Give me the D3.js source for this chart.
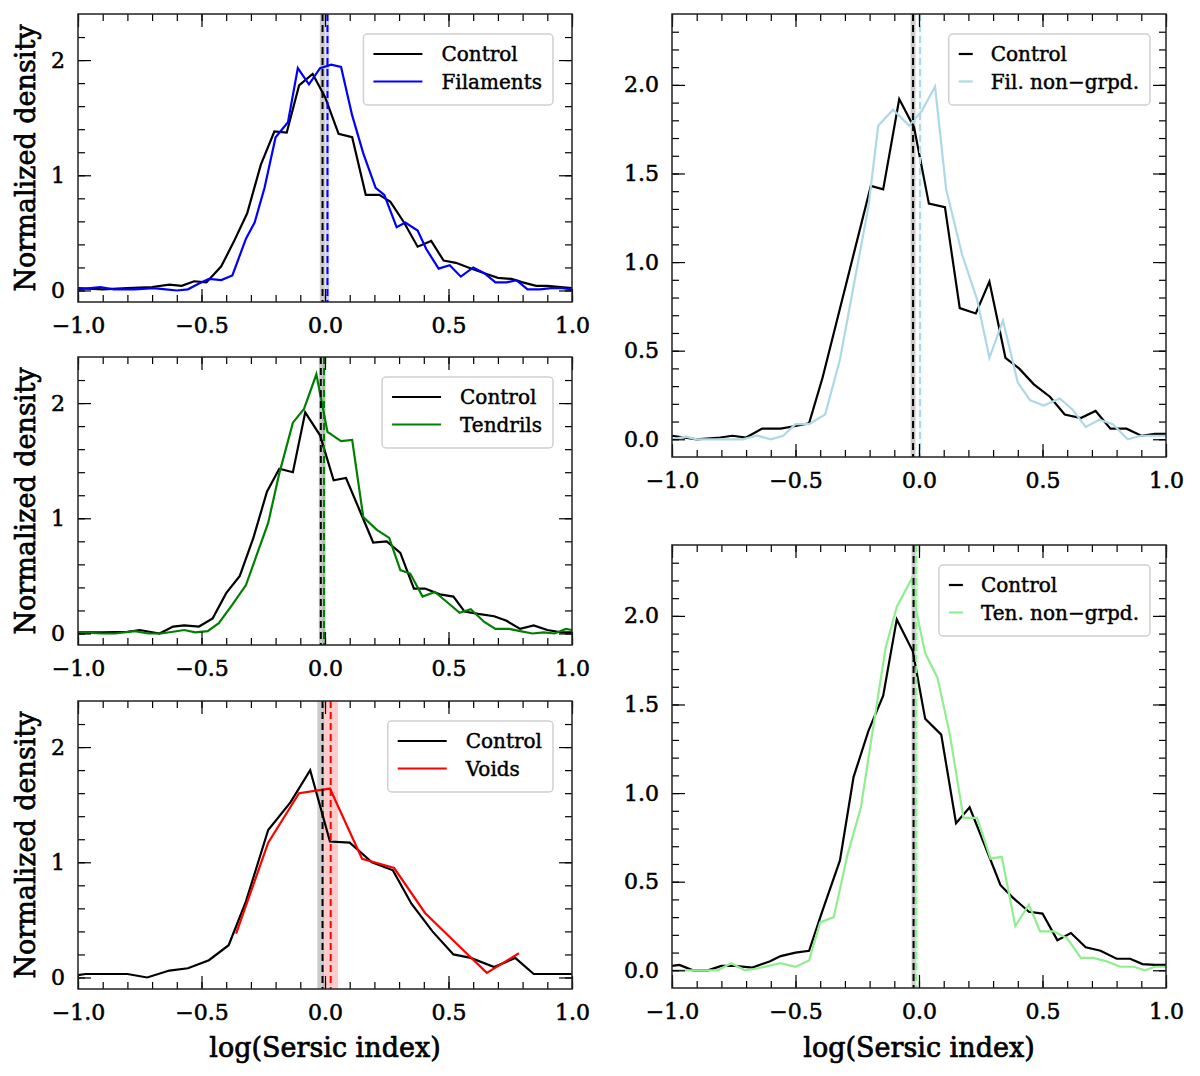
<!DOCTYPE html>
<html>
<head>
<meta charset="utf-8">
<script src="https://cdn.jsdelivr.net/npm/d3@7"></script>
<style>
  body { margin: 0; background: #fff; }
  svg { display: block; }
  text { font-family: "DejaVu Serif", serif; fill: #000; stroke: #000; stroke-width: 0.55px; }
</style>
</head>
<body>
<svg id="fig" width="1200" height="1076"></svg>
<script>
// ---- data (x = log Sersic index, y = normalized density) ----

// Filaments panel
const filCtrlX = [-1.0,-0.90,-0.80,-0.70,-0.63,-0.58,-0.53,-0.48,-0.42,-0.37,-0.315,-0.26,-0.205,-0.155,-0.105,-0.05,0.0,0.055,0.11,0.165,0.22,0.265,0.32,0.375,0.43,0.48,0.53,0.58,0.645,0.70,0.755,0.80,0.855,0.90,0.955,1.0];
const filCtrlY = [0.02,0.01,0.02,0.03,0.05,0.04,0.08,0.07,0.21,0.42,0.67,1.09,1.38,1.37,1.78,1.88,1.68,1.36,1.33,0.83,0.83,0.77,0.59,0.38,0.43,0.26,0.24,0.20,0.15,0.11,0.10,0.07,0.04,0.04,0.03,0.02];
const filX = [-1.0,-0.91,-0.855,-0.77,-0.695,-0.645,-0.60,-0.555,-0.51,-0.47,-0.42,-0.375,-0.32,-0.285,-0.245,-0.20,-0.15,-0.11,-0.065,-0.02,0.025,0.065,0.11,0.155,0.205,0.24,0.29,0.325,0.375,0.41,0.46,0.505,0.55,0.60,0.645,0.69,0.735,0.775,0.82,0.87,0.915,0.96,1.0];
const filY = [0.01,0.03,0.01,0.01,0.02,0.01,0.0,0.01,0.06,0.10,0.09,0.13,0.45,0.59,0.89,1.33,1.46,1.93,1.79,1.93,1.96,1.94,1.52,1.19,0.89,0.83,0.55,0.59,0.52,0.36,0.19,0.22,0.12,0.20,0.15,0.07,0.07,0.09,0.01,0.01,0.02,0.02,0.01];

// Tendrils panel
const tenCtrlX = [-1.0,-0.90,-0.80,-0.75,-0.67,-0.615,-0.57,-0.51,-0.455,-0.40,-0.345,-0.29,-0.235,-0.185,-0.13,-0.08,-0.02,0.035,0.085,0.14,0.195,0.25,0.305,0.36,0.405,0.465,0.52,0.565,0.62,0.685,0.735,0.79,0.845,0.90,0.955,1.0];
const tenCtrlY = [0.01,0.01,0.015,0.03,0.0,0.06,0.07,0.06,0.13,0.35,0.50,0.83,1.23,1.43,1.40,1.92,1.72,1.33,1.35,1.07,0.79,0.80,0.70,0.39,0.39,0.34,0.32,0.19,0.17,0.15,0.11,0.04,0.07,0.03,0.01,0.01];
const tenX = [-1.0,-0.90,-0.85,-0.77,-0.715,-0.665,-0.615,-0.57,-0.525,-0.475,-0.43,-0.375,-0.32,-0.275,-0.23,-0.185,-0.13,-0.085,-0.035,0.01,0.065,0.11,0.155,0.21,0.26,0.305,0.345,0.395,0.445,0.49,0.545,0.59,0.645,0.69,0.745,0.79,0.84,0.885,0.93,0.975,1.0];
const tenY = [0.01,0.0,0.0,0.02,0.0,0.0,0.015,0.03,0.01,0.02,0.09,0.25,0.42,0.69,0.96,1.39,1.83,1.95,2.25,1.75,1.67,1.68,1.01,0.90,0.83,0.55,0.52,0.32,0.36,0.28,0.18,0.21,0.10,0.04,0.04,0.02,0.0,0.01,0.0,0.04,0.03];

// Voids panel
const voidCtrlX = [-1.0,-0.97,-0.80,-0.72,-0.63,-0.555,-0.47,-0.39,-0.32,-0.23,-0.14,-0.06,0.02,0.10,0.19,0.275,0.35,0.435,0.52,0.59,0.685,0.77,0.845,1.0];
const voidCtrlY = [0.02,0.03,0.03,0.0,0.06,0.08,0.15,0.28,0.66,1.28,1.52,1.80,1.18,1.17,1.0,0.93,0.64,0.40,0.20,0.17,0.09,0.17,0.03,0.03];
const voidX = [-0.36,-0.23,-0.105,0.02,0.15,0.28,0.405,0.53,0.655,0.785];
const voidY = [0.38,1.17,1.60,1.64,1.03,0.95,0.56,0.30,0.04,0.21];

// Filaments non-grouped panel
const fngCtrlX = [-1.0,-0.90,-0.805,-0.755,-0.70,-0.635,-0.56,-0.50,-0.445,-0.39,-0.195,-0.145,-0.08,-0.02,0.04,0.105,0.165,0.23,0.285,0.35,0.405,0.465,0.53,0.59,0.655,0.715,0.775,0.84,0.90,0.955,1.0];
const fngCtrlY = [0.02,0.0,0.01,0.02,0.01,0.06,0.06,0.075,0.09,0.35,1.43,1.41,1.92,1.76,1.33,1.31,0.74,0.71,0.89,0.46,0.40,0.31,0.24,0.14,0.12,0.16,0.06,0.06,0.02,0.03,0.03];
const fngX = [-1.0,-0.945,-0.90,-0.805,-0.715,-0.655,-0.60,-0.55,-0.50,-0.445,-0.38,-0.32,-0.26,-0.205,-0.165,-0.105,-0.04,0.01,0.065,0.11,0.175,0.235,0.285,0.34,0.40,0.45,0.505,0.57,0.62,0.675,0.73,0.785,0.845,0.90,0.955,1.0];
const fngY = [0.0,0.015,0.0,0.0,0.0,0.02,0.0,0.02,0.085,0.085,0.14,0.45,0.90,1.31,1.77,1.86,1.77,1.85,1.99,1.41,1.04,0.79,0.46,0.67,0.32,0.22,0.19,0.23,0.17,0.07,0.11,0.085,0.0,0.02,0.02,0.02];

// Tendrils non-grouped panel
const tngCtrlX = [-1.0,-0.97,-0.915,-0.855,-0.80,-0.745,-0.675,-0.605,-0.56,-0.50,-0.445,-0.39,-0.32,-0.265,-0.205,-0.145,-0.09,-0.025,0.025,0.09,0.15,0.205,0.265,0.33,0.38,0.445,0.50,0.56,0.615,0.675,0.735,0.80,0.855,0.905,0.955,1.0];
const tngCtrlY = [0.025,0.03,0.0,0.0,0.025,0.025,0.015,0.05,0.08,0.10,0.11,0.34,0.62,1.09,1.35,1.55,1.98,1.80,1.42,1.33,0.83,0.92,0.71,0.48,0.41,0.33,0.32,0.17,0.21,0.13,0.11,0.065,0.065,0.035,0.03,0.03];
const tngX = [-1.0,-0.915,-0.815,-0.76,-0.705,-0.655,-0.56,-0.50,-0.445,-0.40,-0.345,-0.29,-0.235,-0.19,-0.135,-0.09,-0.03,-0.01,0.025,0.075,0.125,0.18,0.235,0.29,0.335,0.39,0.445,0.49,0.545,0.60,0.655,0.705,0.76,0.815,0.87,0.915,0.955,1.0];
const tngY = [0.0,0.0,0.0,0.04,0.0,0.01,0.04,0.02,0.055,0.27,0.30,0.65,0.92,1.33,1.82,2.05,2.21,2.02,1.79,1.65,1.33,0.86,0.86,0.63,0.64,0.25,0.37,0.22,0.22,0.18,0.07,0.07,0.05,0.02,0.02,0.0,0.02,0.02];

// medians (dashed lines) and their shaded ranges: [median, low, high]
const filMed  = { ctrl: [-0.010, -0.021, 0.000], env: [0.010, 0.002, 0.017] };
const tenMed  = { ctrl: [-0.017, -0.025, -0.001], env: [-0.004, -0.010, 0.004] };
const voidMed = { ctrl: [-0.010, -0.031, -0.004], env: [0.023, -0.006, 0.053] };
const fngMed  = { ctrl: [-0.024, -0.034, -0.014], env: [0.004, -0.002, 0.014] };
const tngMed  = { ctrl: [-0.022, -0.030, -0.013], env: [-0.011, -0.017, -0.001] };

const legendNames = ['Filaments', 'Tendrils', 'Voids', 'Fil. non\u2212grpd.', 'Ten. non\u2212grpd.'];
const envColors = ['#0000ff', '#008000', '#ff0000', '#add8e6', '#90ee90'];

const xMajor = [-1, -0.5, 0, 0.5, 1];
const xMinor = d3.range(-10, 11).map(i => i / 10);
const yMajorLeft = [0, 1, 2];
const yMinorLeft = d3.range(0, 12).map(i => +(i * 0.2).toFixed(1));
const yMajorRight = [0, 0.5, 1, 1.5, 2];
const yMinorRight = d3.range(0, 24).map(i => i / 10);

const svg = d3.select('#fig');

const panels = [
  { id: 0, left: 78,  right: 572,  top: 14,  h: 288, cx: filCtrlX, cy: filCtrlY, ex: filX, ey: filY, med: filMed, short: false, yMajor: yMajorLeft, yMinor: yMinorLeft, yFmt: d3.format('d') },
  { id: 1, left: 78,  right: 572,  top: 357, h: 288, cx: tenCtrlX, cy: tenCtrlY, ex: tenX, ey: tenY, med: tenMed, short: false, yMajor: yMajorLeft, yMinor: yMinorLeft, yFmt: d3.format('d') },
  { id: 2, left: 78,  right: 572,  top: 701, h: 288, cx: voidCtrlX, cy: voidCtrlY, ex: voidX, ey: voidY, med: voidMed, short: false, yMajor: yMajorLeft, yMinor: yMinorLeft, yFmt: d3.format('d') },
  { id: 3, left: 672, right: 1166, top: 14,  h: 443, cx: fngCtrlX, cy: fngCtrlY, ex: fngX, ey: fngY, med: fngMed, short: true, yMajor: yMajorRight, yMinor: yMinorRight, yFmt: d3.format('.1f') },
  { id: 4, left: 672, right: 1166, top: 545, h: 443, cx: tngCtrlX, cy: tngCtrlY, ex: tngX, ey: tngY, med: tngMed, short: true, yMajor: yMajorRight, yMinor: yMinorRight, yFmt: d3.format('.1f') }
];

function styleAxis(a) {
  a.select('.domain').remove();
  a.attr('font-family', '"DejaVu Serif", serif').attr('font-size', 22);
  a.selectAll('line').attr('stroke', '#000').attr('stroke-width', 1.2);
  a.selectAll('text').attr('fill', '#000');
}

function drawPanel(p) {
  const color = envColors[p.id];
  const x = d3.scaleLinear().domain([-1, 1]).range([p.left, p.right]);
  const y = d3.scaleLinear().domain([-0.1, 2.4]).range([p.top + p.h, p.top]);
  const g = svg.append('g');

  g.append('clipPath').attr('id', 'clip' + p.id)
    .append('rect').attr('x', p.left).attr('y', p.top)
    .attr('width', p.right - p.left).attr('height', p.h);
  const plot = g.append('g').attr('clip-path', `url(#clip${p.id})`);

  // shaded ranges around the medians
  plot.append('rect')
    .attr('x', x(p.med.ctrl[1])).attr('width', x(p.med.ctrl[2]) - x(p.med.ctrl[1]))
    .attr('y', p.top).attr('height', p.h)
    .attr('fill', '#808080').attr('fill-opacity', 0.4);
  plot.append('rect')
    .attr('x', x(p.med.env[1])).attr('width', x(p.med.env[2]) - x(p.med.env[1]))
    .attr('y', p.top).attr('height', p.h)
    .attr('fill', color).attr('fill-opacity', 0.2);

  // curves
  const line = d3.line().x(d => x(d[0])).y(d => y(d[1]));
  plot.append('path').datum(d3.zip(p.cx, p.cy)).attr('d', line)
    .attr('fill', 'none').attr('stroke', '#000').attr('stroke-width', 2.2).attr('stroke-linejoin', 'miter');
  plot.append('path').datum(d3.zip(p.ex, p.ey)).attr('d', line)
    .attr('fill', 'none').attr('stroke', color).attr('stroke-width', 2.2).attr('stroke-linejoin', 'miter');

  // median dashed lines
  [[p.med.ctrl[0], '#000'], [p.med.env[0], color]].forEach(([m, c]) => {
    plot.append('line')
      .attr('x1', x(m)).attr('x2', x(m)).attr('y1', p.top).attr('y2', p.top + p.h)
      .attr('stroke', c).attr('stroke-width', 2).attr('stroke-dasharray', '7,4');
  });

  // ticks on all four sides, pointing inward
  const bottom = p.top + p.h;
  styleAxis(g.append('g').attr('transform', `translate(0,${bottom})`)
    .call(d3.axisBottom(x).tickValues(xMinor).tickSize(-7).tickFormat('')));
  styleAxis(g.append('g').attr('transform', `translate(0,${bottom})`)
    .call(d3.axisBottom(x).tickValues(xMajor).tickSize(-13).tickPadding(15).tickFormat(d3.format('.1f'))));
  styleAxis(g.append('g').attr('transform', `translate(0,${p.top})`)
    .call(d3.axisTop(x).tickValues(xMinor).tickSize(-7).tickFormat('')));
  styleAxis(g.append('g').attr('transform', `translate(0,${p.top})`)
    .call(d3.axisTop(x).tickValues(xMajor).tickSize(-13).tickFormat('')));
  styleAxis(g.append('g').attr('transform', `translate(${p.left},0)`)
    .call(d3.axisLeft(y).tickValues(p.yMinor).tickSize(-7).tickFormat('')));
  styleAxis(g.append('g').attr('transform', `translate(${p.left},0)`)
    .call(d3.axisLeft(y).tickValues(p.yMajor).tickSize(-13).tickPadding(13).tickFormat(p.yFmt)));
  styleAxis(g.append('g').attr('transform', `translate(${p.right},0)`)
    .call(d3.axisRight(y).tickValues(p.yMinor).tickSize(-7).tickFormat('')));
  styleAxis(g.append('g').attr('transform', `translate(${p.right},0)`)
    .call(d3.axisRight(y).tickValues(p.yMajor).tickSize(-13).tickFormat('')));

  // frame
  g.append('rect').attr('x', p.left).attr('y', p.top)
    .attr('width', p.right - p.left).attr('height', p.h)
    .attr('fill', 'none').attr('stroke', '#222').attr('stroke-width', 1.5);

  // legend
  const lg = g.append('g');
  const box = lg.append('rect');
  const names = ['Control', legendNames[p.id]];
  const textX = p.short ? 42 : 78;
  let maxW = 0;
  const rows = names.map((n, i) => {
    const t = lg.append('text').attr('y', 20 + i * 27.5).attr('dy', '0.35em')
      .style('font-size', '20px').style('stroke-width', '0.45px').text(n);
    maxW = Math.max(maxW, t.node().getComputedTextLength());
    return t;
  });
  const bw = textX + maxW + 11;
  const bx = p.right - (p.short ? 16 : 19) - bw;
  const by = p.top + 20;
  lg.attr('transform', `translate(${bx},${by})`);
  box.attr('width', bw).attr('height', 71).attr('rx', 4)
    .attr('fill', '#fff').attr('fill-opacity', 0.85)
    .attr('stroke', '#d0d0d0').attr('stroke-width', 1.5);
  rows.forEach(t => t.attr('x', textX));
  ['#000', color].forEach((c, i) => {
    lg.append('line')
      .attr('x1', 10).attr('x2', p.short ? 24 : 59)
      .attr('y1', 20 + i * 27.5).attr('y2', 20 + i * 27.5)
      .attr('stroke', c).attr('stroke-width', 2.2);
  });

  // axis titles
  if (p.left < 600) {
    svg.append('text')
      .attr('transform', `translate(35,${p.top + p.h / 2}) rotate(-90)`)
      .attr('text-anchor', 'middle').style('font-size', '27px').style('stroke-width', '0.7px')
      .text('Normalized density');
  }
  if (p.id === 2 || p.id === 4) {
    svg.append('text')
      .attr('x', (p.left + p.right) / 2).attr('y', 1057)
      .attr('text-anchor', 'middle').style('font-size', '27px').style('stroke-width', '0.7px')
      .text('log(Sersic index)');
  }
}

panels.forEach(drawPanel);
</script>
</body>
</html>
